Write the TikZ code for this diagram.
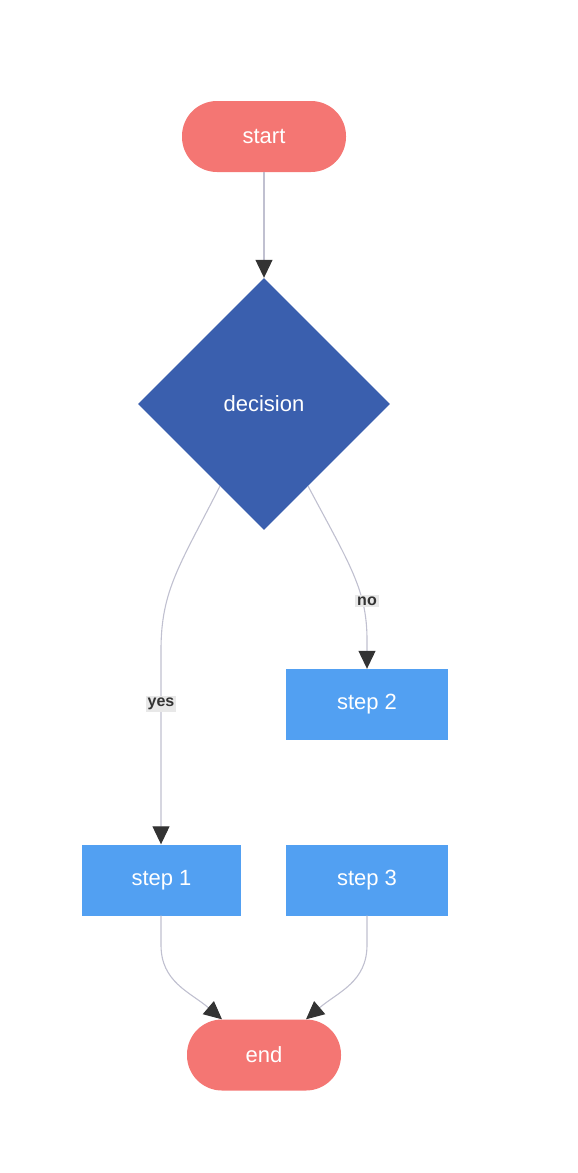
\documentclass[tikz,border=0pt]{standalone}
\usepackage{fontspec}
\setmainfont{Liberation Sans}
\usetikzlibrary{shapes.geometric,arrows.meta,calc}
\definecolor{termc}{HTML}{F47673}
\definecolor{decc}{HTML}{3A5FAE}
\definecolor{stepc}{HTML}{52A0F2}
\definecolor{linec}{HTML}{C0C0D0}
\definecolor{tipc}{HTML}{333333}
\definecolor{lblbg}{HTML}{E8E8E8}
\tikzset{
  x=1pt,y=-1pt,
  term/.style={draw=none,fill=termc,rounded corners=35pt,minimum width=#1,minimum height=71pt,inner sep=0,text=white,font=\fontsize{22}{26}\selectfont},
  dec/.style={diamond,aspect=1,fill=decc,minimum width=252pt,minimum height=252pt,inner sep=0,text=white,font=\fontsize{22}{26}\selectfont},
  stepbox/.style={rectangle,fill=stepc,minimum width=#1,minimum height=71pt,inner sep=0,text=white,font=\fontsize{22}{26}\selectfont},
  conn/.style={draw=linec,line width=1.1pt,-{Triangle[length=18pt,width=17pt,color=tipc,fill=tipc]}},
  lbl/.style={fill=lblbg,text=tipc,font=\fontsize{16}{19}\selectfont\bfseries,inner sep=2pt}
}
\begin{document}
\begin{tikzpicture}
\useasboundingbox (0,0) rectangle (578,1173);
\node[term=164pt] (start) at (264,136.5) {start};
\node[dec] (dec) at (264,404) {decision};
\node[stepbox=162pt] (s2) at (367,704.5) {step 2};
\node[stepbox=159pt] (s1) at (161.5,880) {step 1};
\node[stepbox=162pt] (s3) at (367,880) {step 3};
\node[term=154pt] (end) at (264,1055) {end};

\draw[conn] (start.south) -- (dec.north);
\draw[conn] ($(dec.center)+(-44,82)$) .. controls (180,565) and (161,590) .. (161,650) -- (s1.north -| 161,0);
\draw[conn] ($(dec.center)+(44,82)$) .. controls (350,565) and (367,590) .. (367,640) -- (s2.north);
\draw[conn] (s1.south -| 161,0) -- (161,945) .. controls (161,982) and (190,992) .. ($(end.north)+(-42,0)$);
\draw[conn] (s3.south) -- (367,945) .. controls (367,982) and (338,992) .. ($(end.north)+(42,0)$);
\node[lbl] (yes) at (161,704) {yes};
\node[lbl] (no) at (367,601) {no};
\end{tikzpicture}
\end{document}
